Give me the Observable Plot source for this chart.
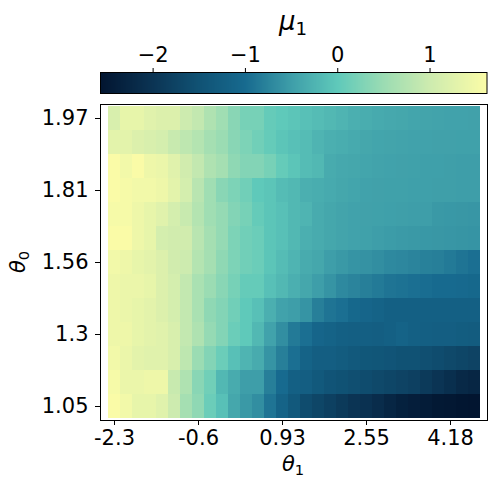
<!DOCTYPE html>
<html><head><meta charset="utf-8">
<script src="https://cdn.jsdelivr.net/npm/d3@7"></script>
<script src="https://cdn.jsdelivr.net/npm/@observablehq/plot@0.6"></script>
<style>body{margin:0;background:#fff;font-family:"DejaVu Sans";} svg{display:block}</style>
</head><body><div id="chart"></div>
<script>
// θ1 tick labels at column indices (31 columns)
const xTickCols = [0, 7, 14, 21, 28];
const xTickLabels = ["-2.3", "-0.6", "0.93", "2.55", "4.18"];
// θ0 tick labels at row indices (13 rows, top first)
const yTickRows = [0, 3, 6, 9, 12];
const yTickLabels = ["1.97", "1.81", "1.56", "1.3", "1.05"];
// colorbar ticks
const cbTicks = [-2, -1, 0, 1];
const cbDomain = [-2.57, 1.617];

// μ1 values, one row per θ0 (top row θ0 = 1.97 first)
const row00 = [1.15,1.35,1.35,1.25,1.2,1.2,1.0,0.9,0.7,0.55,0.35,0.2,0.2,0.05,0.0,-0.05,-0.1,-0.15,-0.2,-0.25,-0.3,-0.33,-0.36,-0.38,-0.4,-0.42,-0.43,-0.44,-0.45,-0.45,-0.46];
const row01 = [1.3,1.3,1.2,1.15,1.1,0.95,0.85,0.75,0.6,0.5,0.35,0.25,0.15,0.05,-0.05,-0.1,-0.15,-0.25,-0.3,-0.33,-0.36,-0.4,-0.42,-0.43,-0.44,-0.45,-0.45,-0.46,-0.46,-0.47,-0.47];
const row02 = [1.6,1.5,1.6,1.45,1.4,1.25,1.05,0.9,0.7,0.6,0.4,0.3,0.3,0.2,0.05,-0.05,-0.15,-0.2,-0.35,-0.38,-0.4,-0.42,-0.44,-0.45,-0.46,-0.47,-0.48,-0.48,-0.49,-0.5,-0.5];
const row03 = [1.6,1.55,1.5,1.5,1.45,1.3,1.1,0.8,0.55,0.35,0.25,0.15,0.0,-0.05,-0.15,-0.2,-0.3,-0.33,-0.36,-0.4,-0.42,-0.45,-0.46,-0.47,-0.47,-0.48,-0.48,-0.49,-0.49,-0.5,-0.5];
const row04 = [1.55,1.55,1.45,1.35,1.25,1.1,0.95,0.75,0.55,0.45,0.3,0.2,0.05,-0.05,-0.1,-0.2,-0.25,-0.35,-0.4,-0.43,-0.45,-0.46,-0.47,-0.48,-0.49,-0.5,-0.5,-0.55,-0.56,-0.57,-0.58];
const row05 = [1.6,1.6,1.45,1.35,1.1,1.05,1.05,0.8,0.6,0.45,0.25,0.15,0.1,-0.05,-0.1,-0.2,-0.3,-0.35,-0.4,-0.43,-0.45,-0.47,-0.5,-0.52,-0.54,-0.55,-0.56,-0.57,-0.58,-0.59,-0.6];
const row06 = [1.5,1.45,1.35,1.3,1.2,1.05,1.0,0.75,0.6,0.4,0.25,0.15,0.1,-0.05,-0.15,-0.25,-0.35,-0.4,-0.5,-0.55,-0.6,-0.62,-0.65,-0.7,-0.72,-0.75,-0.78,-0.8,-0.85,-0.9,-0.95];
const row07 = [1.45,1.4,1.4,1.35,1.2,1.1,0.9,0.65,0.5,0.35,0.2,0.05,0.05,-0.1,-0.2,-0.3,-0.4,-0.5,-0.6,-0.7,-0.75,-0.8,-0.85,-0.9,-0.92,-0.95,-0.97,-1.0,-1.0,-1.02,-1.05];
const row08 = [1.45,1.4,1.35,1.3,1.2,1.1,0.9,0.65,0.4,0.3,0.15,0.0,-0.1,-0.3,-0.45,-0.5,-0.6,-0.8,-0.9,-0.95,-1.05,-1.1,-1.15,-1.2,-1.2,-1.2,-1.2,-1.2,-1.2,-1.2,-1.2];
const row09 = [1.45,1.45,1.35,1.3,1.25,1.15,0.9,0.7,0.45,0.3,0.1,0.0,-0.2,-0.45,-0.65,-0.85,-0.95,-1.1,-1.15,-1.2,-1.22,-1.22,-1.25,-1.2,-1.15,-1.2,-1.22,-1.25,-1.25,-1.27,-1.3];
const row10 = [1.5,1.4,1.3,1.25,1.25,1.15,0.85,0.5,0.3,0.1,-0.1,-0.25,-0.35,-0.6,-0.8,-0.95,-1.15,-1.25,-1.25,-1.3,-1.35,-1.4,-1.42,-1.45,-1.5,-1.5,-1.55,-1.6,-1.65,-1.7,-1.75];
const row11 = [1.55,1.4,1.4,1.45,1.45,0.95,0.7,0.35,0.15,-0.2,-0.35,-0.5,-0.5,-0.8,-1.0,-1.2,-1.25,-1.35,-1.45,-1.5,-1.55,-1.6,-1.65,-1.7,-1.75,-1.8,-1.9,-2.0,-2.1,-2.2,-2.25];
const row12 = [1.6,1.5,1.35,1.35,1.25,1.0,0.6,0.4,0.1,-0.1,-0.4,-0.55,-0.65,-0.9,-1.15,-1.35,-1.6,-1.7,-1.8,-1.9,-2.0,-2.05,-2.15,-2.25,-2.35,-2.4,-2.45,-2.5,-2.52,-2.55,-2.57];
const rows = [row00,row01,row02,row03,row04,row05,row06,row07,row08,row09,row10,row11,row12];

// colormap stops
const cStops = [-2.57, -2.0, -1.5, -1.0, -0.5, 0, 0.5, 1.0, 1.62];
const cColors = ["#021530", "#0b3454", "#105274", "#176a8f", "#3e9ea9", "#5fc9ba", "#9bdcb3", "#cdebaf", "#fbfca7"];

const cells = [];
rows.forEach((row, r) => row.forEach((v, c) => cells.push({r, c, v})));
const nCols = row00.length;
const colIdx = d3.range(nCols);
const rowIdx = d3.range(rows.length);
const colorOpt = {type: "linear", domain: cStops, range: cColors, clamp: true, interpolate: "rgb"};
const fam = "DejaVu Sans";
const fs = 21;

// colorbar
const cbSteps = d3.range(cbDomain[0], cbDomain[1], 0.005).map(v => ({v, v2: Math.min(v + 0.0055, cbDomain[1])}));
const cb = Plot.plot({
  width: 496, height: 100,
  marginTop: 72, marginBottom: 7, marginLeft: 100, marginRight: 9.5,
  style: {fontFamily: fam, fontSize: fs + "px", color: "black", background: "white", overflow: "visible"},
  x: {domain: cbDomain, axis: "top", ticks: cbTicks, tickSize: 5, tickPadding: 6,
      tickFormat: d => d < 0 ? "\u2212" + (-d) : String(d), label: null},
  color: colorOpt,
  marks: [
    Plot.rect(cbSteps, {x1: "v", x2: "v2", fill: "v", shapeRendering: "crispEdges"}),
    Plot.frame({stroke: "black", strokeWidth: 1})
  ]
});

const main = Plot.plot({
  width: 496, height: 389,
  marginTop: 4, marginBottom: 69, marginLeft: 100, marginRight: 9,
  style: {fontFamily: fam, fontSize: fs + "px", color: "black", background: "white", overflow: "visible"},
  x: {type: "band", domain: colIdx, padding: 0, ticks: xTickCols, tickSize: 5, tickPadding: 5,
      tickFormat: i => xTickLabels[xTickCols.indexOf(i)], label: null},
  y: {type: "band", domain: rowIdx, padding: 0, ticks: yTickRows, tickSize: 5, tickPadding: 7,
      tickFormat: i => yTickLabels[yTickRows.indexOf(i)], label: null},
  color: colorOpt,
  marks: [
    Plot.cell(cells, {x: "c", y: "r", fill: "v", inset: 0, shapeRendering: "crispEdges"}),
    Plot.frame({stroke: "black", strokeWidth: 1})
  ]
});

function mathLabel(svg, sym, sub, x, y, size, rotate) {
  const t = d3.select(svg).append("text")
    .attr("text-anchor", "middle")
    .attr("font-family", fam)
    .attr("font-size", size)
    .attr("fill", "black")
    .attr("transform", `translate(${x},${y})` + (rotate ? ` rotate(${rotate})` : ""));
  t.append("tspan").attr("font-style", "italic").text(sym);
  t.append("tspan").attr("font-size", size * 0.7).attr("dy", size * 0.18).text(sub);
}
mathLabel(cb, "\u03bc", "1", 293, 30, 26, 0);
mathLabel(main, "\u03b8", "1", 293, 371, 21, 0);
mathLabel(main, "\u03b8", "0", 25, 162, 21, -90);

const root = document.getElementById("chart");
root.appendChild(cb);
root.appendChild(main);
</script>
</body></html>
